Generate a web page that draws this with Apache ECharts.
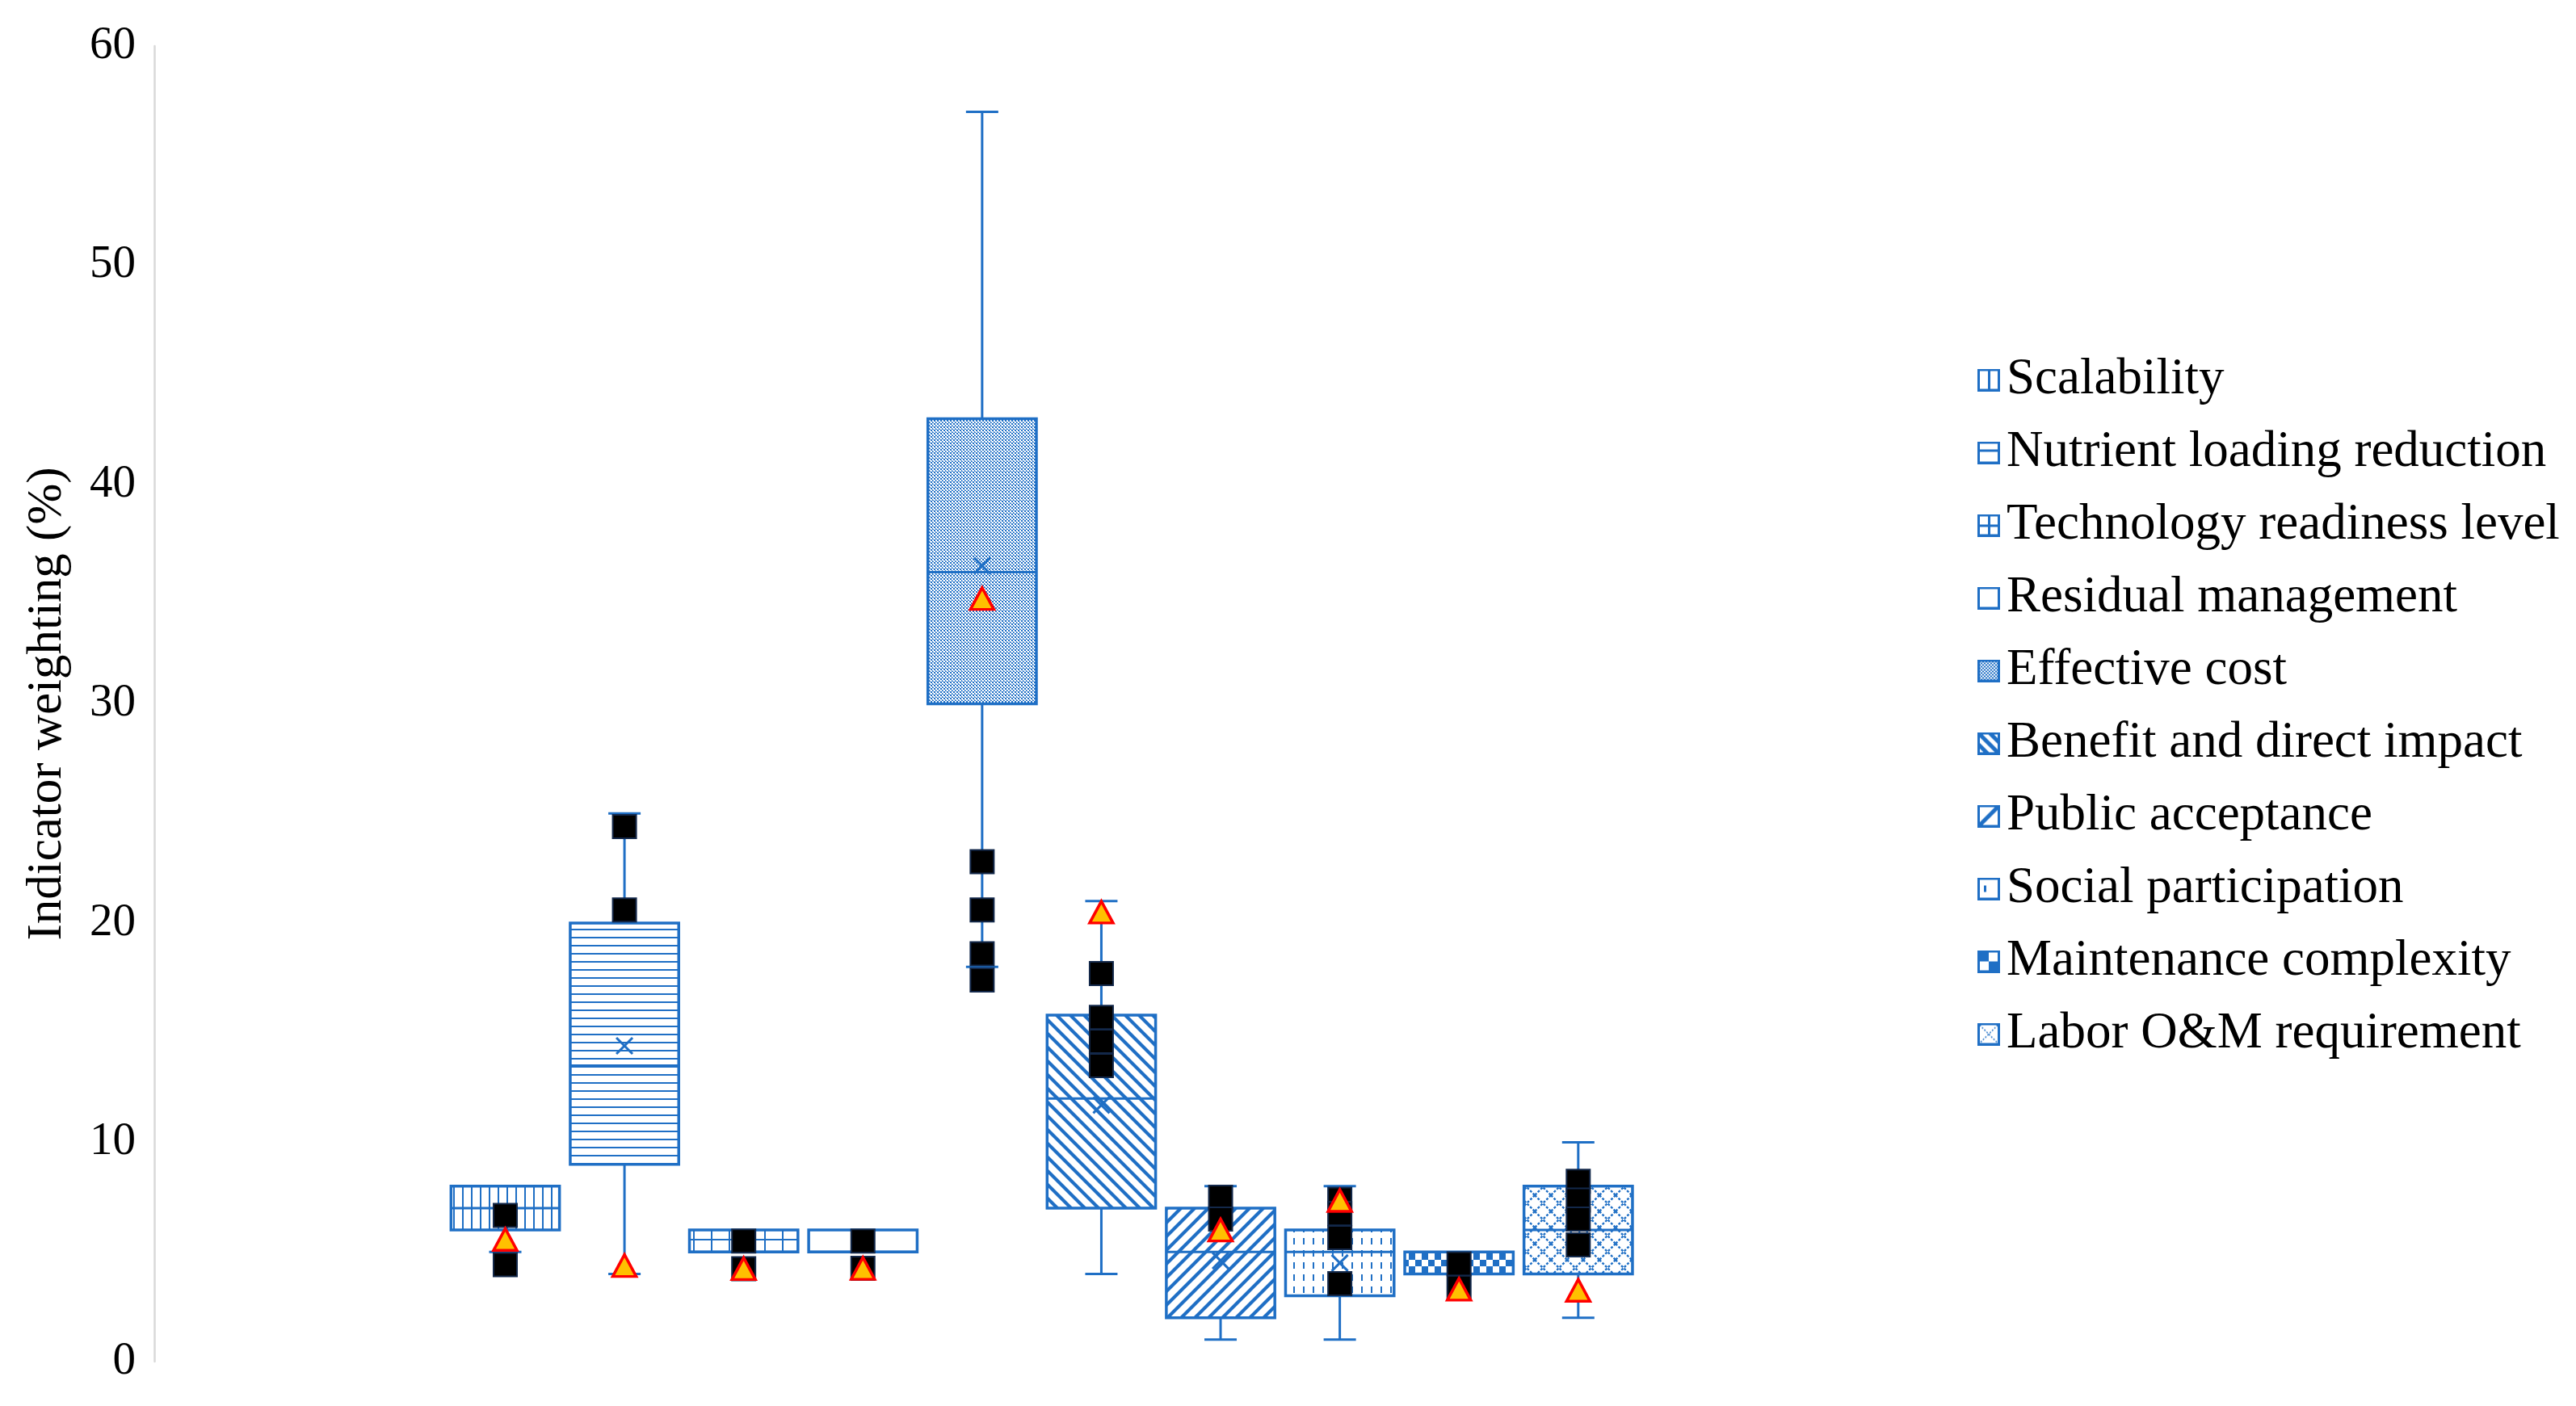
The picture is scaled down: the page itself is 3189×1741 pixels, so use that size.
<!DOCTYPE html>
<html><head><meta charset="utf-8">
<script src="https://cdn.jsdelivr.net/npm/echarts@6/dist/echarts.min.js"></script>
<style>html,body{margin:0;padding:0;background:#fff}#c{width:3189px;height:1741px}</style>
</head><body><div id="c"></div>
<script>
// ---------- data ----------
const indicators = ['Scalability', 'Nutrient loading reduction', 'Technology readiness level',
  'Residual management', 'Effective cost', 'Benefit and direct impact', 'Public acceptance',
  'Social participation', 'Maintenance complexity', 'Labor O&M requirement'];
const whiskerLow  = [5, 4, 5, 5, 18, 4, 1, 1, 4, 2];
const q1          = [6, 9, 5, 5, 30, 7, 2, 3, 4, 4];
const medianVals  = [7, 13.5, 5, 5, 36, 12, 5, 5, 4, 6];
const q3          = [8, 20, 6, 6, 43, 15.8, 7, 6, 5, 8];
const whiskerHigh = [8, 25, 6, 6, 57, 21, 8, 8, 5, 10];
const meanVals    = [null, 14.4, null, null, 36.3, 11.7, 4.6, 4.5, null, null];
const squarePoints = [[6.67, 4.42], [24.4, 20.6], [5.5, 4.24], [5.5, 4.25], [22.8, 20.6, 18.6, 17.4],
  [17.7, 15.7, 14.6, 13.5], [7.5, 6.5], [7.4, 6.75, 5.65, 3.55], [4.46, 3.38], [8.22, 7.37, 6.5, 5.32]];
const trianglePoints = [5.57, 4.38, 4.24, 4.25, 34.8, 20.5, 6.0, 7.35, 3.3, 3.25];
const yTicks = { min: 0, max: 60, interval: 10 };

// ---------- styles ----------
const BLUE = '#1f6fc5';
const FONT = '"Liberation Serif", "Times New Roman", serif';

function tile(w, h, draw) {
  const c = document.createElement('canvas'); c.width = w; c.height = h;
  const g = c.getContext('2d'); g.fillStyle = '#fff'; g.fillRect(0, 0, w, h);
  g.fillStyle = BLUE; g.strokeStyle = BLUE; draw(g, w, h);
  return { image: c, repeat: 'repeat' };
}
function diag(g, w, h, dir, lw) {
  g.lineWidth = lw; g.beginPath();
  for (let k = -1; k <= 1; k++) {
    if (dir > 0) { g.moveTo(k * w - 2, -2); g.lineTo(k * w + w + 2, h + 2); }
    else { g.moveTo(k * w + w + 2, -2); g.lineTo(k * w - 2, h + 2); }
  }
  g.stroke();
}
const patterns = [
  tile(11, 4, g => g.fillRect(0, 0, 2, 4)),
  tile(4, 10, g => g.fillRect(0, 0, 4, 2)),
  tile(22, 26, g => { g.fillRect(0, 0, 2, 26); g.fillRect(0, 0, 22, 2); }),
  '#ffffff',
  tile(4, 4, g => { g.fillRect(0, 0, 2, 2); g.fillRect(2, 2, 1, 1); g.fillRect(3, 3, 1, 1); g.fillRect(2, 3, 1, 1); }),
  tile(17, 17, (g, w, h) => diag(g, w, h, 1, 4.2)),
  tile(17, 17, (g, w, h) => diag(g, w, h, -1, 4.2)),
  tile(12, 15, g => g.fillRect(5, 3, 2, 8)),
  tile(16, 16, g => { g.fillRect(0, 0, 8, 8); g.fillRect(8, 8, 8, 8); }),
  tile(20, 20, g => { g.lineWidth = 2.4; g.setLineDash([3, 2]); g.beginPath();
    g.moveTo(0, 0); g.lineTo(20, 20); g.moveTo(20, 0); g.lineTo(0, 20); g.stroke(); })
];

function icon(draw) {
  const s = 28, c = document.createElement('canvas'); c.width = s; c.height = s;
  const g = c.getContext('2d'); g.fillStyle = '#fff'; g.fillRect(0, 0, s, s);
  g.fillStyle = BLUE; g.strokeStyle = BLUE;
  g.save(); g.beginPath(); g.rect(2, 2, 24, 24); g.clip(); draw(g); g.restore();
  g.lineWidth = 3; g.strokeRect(1.5, 1.5, 25, 25);
  return 'image://' + c.toDataURL();
}
const icons = [
  icon(g => g.fillRect(13, 0, 3, 28)),
  icon(g => g.fillRect(0, 10, 28, 3)),
  icon(g => { g.fillRect(13, 0, 3, 28); g.fillRect(0, 13, 28, 3); }),
  icon(g => {}),
  icon(g => { for (let x = 0; x < 28; x += 4) for (let y = 0; y < 28; y += 4) { g.fillRect(x, y, 2, 2); g.fillRect(x + 2, y + 2, 2, 2); } }),
  icon(g => { g.lineWidth = 5; g.beginPath(); g.moveTo(0, 0); g.lineTo(28, 28); g.moveTo(0, -14); g.lineTo(28, 14); g.moveTo(0, 14); g.lineTo(28, 42); g.stroke(); }),
  icon(g => { g.lineWidth = 5; g.beginPath(); g.moveTo(0, 28); g.lineTo(28, 0); g.stroke(); }),
  icon(g => g.fillRect(8, 10, 3, 8)),
  icon(g => { g.fillRect(2, 2, 12, 12); g.fillRect(14, 14, 12, 12); }),
  icon(g => { g.lineWidth = 1.5; g.setLineDash([2, 2]); g.beginPath(); g.moveTo(0, 0); g.lineTo(28, 28); g.moveTo(28, 0); g.lineTo(0, 28); g.stroke(); })
];

function renderBox(i) {
  return function (params, api) {
    const idx = api.value(0);
    const lo = api.value(1), a = api.value(2), m = api.value(3), b = api.value(4), hi = api.value(5), mean = api.value(6);
    const band = api.size([1, 0])[0];
    const w = band * 0.91, cw = 40;
    const cx = api.coord([idx, a])[0];
    const Y = v => api.coord([idx, v])[1];
    const ls = { stroke: BLUE, lineWidth: 3, fill: null };
    const ch = [];
    if (hi > b) {
      ch.push({ type: 'line', shape: { x1: cx, y1: Y(b), x2: cx, y2: Y(hi) }, style: ls });
      ch.push({ type: 'line', shape: { x1: cx - cw / 2, y1: Y(hi), x2: cx + cw / 2, y2: Y(hi) }, style: ls });
    }
    if (lo < a) {
      ch.push({ type: 'line', shape: { x1: cx, y1: Y(a), x2: cx, y2: Y(lo) }, style: ls });
      ch.push({ type: 'line', shape: { x1: cx - cw / 2, y1: Y(lo), x2: cx + cw / 2, y2: Y(lo) }, style: ls });
    }
    ch.push({ type: 'rect', shape: { x: cx - w / 2, y: Y(b), width: w, height: Y(a) - Y(b) },
      style: { fill: patterns[i], stroke: BLUE, lineWidth: 3.5 } });
    ch.push({ type: 'line', shape: { x1: cx - w / 2, y1: Y(m), x2: cx + w / 2, y2: Y(m) }, style: ls });
    if (isFinite(mean)) {
      const my = Y(mean), r = 10;
      ch.push({ type: 'line', shape: { x1: cx - r, y1: my - r, x2: cx + r, y2: my + r }, style: ls });
      ch.push({ type: 'line', shape: { x1: cx - r, y1: my + r, x2: cx + r, y2: my - r }, style: ls });
    }
    return { type: 'group', children: ch };
  };
}

const boxSeries = indicators.map((name, i) => ({
  name, type: 'custom', coordinateSystem: 'cartesian2d', xAxisIndex: 1, yAxisIndex: 1,
  itemStyle: { color: BLUE }, z: 2, silent: true,
  encode: { x: 0, y: [1, 2, 3, 4, 5] },
  data: [[i, whiskerLow[i], q1[i], medianVals[i], q3[i], whiskerHigh[i], meanVals[i] == null ? NaN : meanVals[i]]],
  renderItem: renderBox(i)
}));

const squareData = [];
squarePoints.forEach((arr, i) => arr.forEach(v => squareData.push([i, v])));
const triData = trianglePoints.map((v, i) => [i, v]);

const chart = echarts.init(document.getElementById('c'), null, { renderer: 'canvas' });
chart.setOption({
  backgroundColor: '#fff',
  animation: false,
  textStyle: { fontFamily: FONT },
  grid: [
    { left: 191, top: 57, width: 2195, height: 1629 },
    { left: 551.7, top: 57, width: 1475.9, height: 1629 }
  ],
  xAxis: [
    { gridIndex: 0, type: 'value', show: false, min: 0, max: 1 },
    { gridIndex: 1, type: 'category', show: false, data: indicators, boundaryGap: true }
  ],
  yAxis: [
    { gridIndex: 0, type: 'value', min: yTicks.min, max: yTicks.max, interval: yTicks.interval,
      axisLine: { show: true, lineStyle: { color: '#d9d9d9', width: 2.5 } },
      axisTick: { show: false }, splitLine: { show: false },
      axisLabel: { fontSize: 57, color: '#000', margin: 23, fontFamily: FONT },
      name: 'Indicator weighting (%)', nameLocation: 'middle', nameGap: 102,
      nameTextStyle: { fontSize: 61, color: '#000', fontFamily: FONT } },
    { gridIndex: 1, type: 'value', min: yTicks.min, max: yTicks.max, interval: yTicks.interval, show: false }
  ],
  legend: {
    orient: 'vertical', left: 2443, top: 434, itemWidth: 28, itemHeight: 28, itemGap: 27,
    textStyle: { fontSize: 63, color: '#000', fontFamily: FONT, padding: [0, 0, 0, 3] },
    data: indicators.map((n, i) => ({ name: n, icon: icons[i] })),
    selectedMode: false
  },
  series: boxSeries.concat([
    { name: 'points', type: 'scatter', xAxisIndex: 1, yAxisIndex: 1, z: 5, symbol: 'rect', symbolSize: 29,
      itemStyle: { color: '#000', borderColor: '#13284a', borderWidth: 2, opacity: 1 }, data: squareData, silent: true },
    { name: 'reference', type: 'scatter', xAxisIndex: 1, yAxisIndex: 1, z: 6, symbol: 'triangle', symbolSize: [29, 27],
      itemStyle: { color: '#ffc000', borderColor: '#ff0000', borderWidth: 3.5, opacity: 1 }, data: triData, silent: true }
  ])
});
</script></body></html>
